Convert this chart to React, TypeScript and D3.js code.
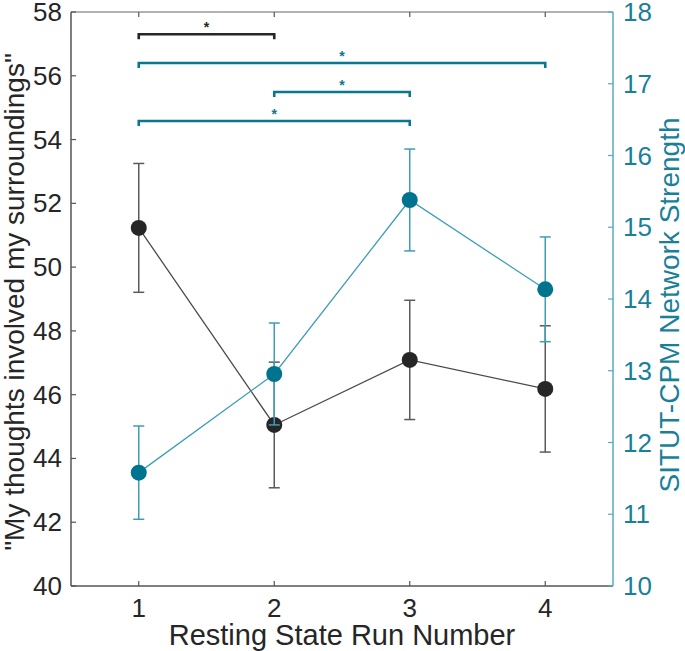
import React from "react";
import * as d3 from "d3";

const runs = [1, 2, 3, 4];
const behavMean = [51.23, 45.05, 47.09, 46.18];
const behavErr = [2.02, 1.97, 1.87, 1.98];
const netMean = [11.58, 12.955, 15.38, 14.135];
const netErr = [0.65, 0.71, 0.71, 0.73];
const leftTicks = [40, 42, 44, 46, 48, 50, 52, 54, 56, 58];
const rightTicks = [10, 11, 12, 13, 14, 15, 16, 17, 18];
const bracketFrom = [1, 1, 2, 1];
const bracketTo = [2, 4, 3, 3];
const bracketLevel = [57.3, 56.4, 55.49, 54.58];
const bracketSeries = ["behav", "net", "net", "net"];

const W = 685;
const H = 651;
const m = { left: 71, right: 613, top: 12, bottom: 586 };

const DARK = "#262626";
const DARKLINE = "#4a4a4a";
const BLUE = "#00738f";
const BLUELINE = "#3f9db7";
const AXISBLUE = "#1a7f99";
const FONT = "'Liberation Sans', Arial, sans-serif";

export default function App() {
  const x = d3.scaleLinear().domain([0.5, 4.5]).range([m.left, m.right]);
  const yL = d3.scaleLinear().domain([40, 58]).range([m.bottom, m.top]);
  const yR = d3.scaleLinear().domain([10, 18]).range([m.bottom, m.top]);
  const line = d3.line<[number, number]>().x((d) => d[0]).y((d) => d[1]);
  const cap = 5.5;
  const tk = 5;

  const behavPts: [number, number][] = runs.map((r, i) => [x(r), yL(behavMean[i])]);
  const netPts: [number, number][] = runs.map((r, i) => [x(r), yR(netMean[i])]);

  return (
    <svg width={W} height={H} style={{ position: "absolute", left: 0, top: 0, background: "#fff" }} fontFamily={FONT}>
      {/* box */}
      <line x1={m.left} x2={m.right} y1={m.top} y2={m.top} stroke="#666" strokeWidth={1.2} />
      <line x1={m.left} x2={m.right} y1={m.bottom} y2={m.bottom} stroke="#555" strokeWidth={1.5} />
      <line x1={m.left} x2={m.left} y1={m.top} y2={m.bottom} stroke="#555" strokeWidth={1.5} />
      <line x1={m.right} x2={m.right} y1={m.top} y2={m.bottom} stroke="#58aac2" strokeWidth={1.5} />

      {/* x ticks */}
      {runs.map((r) => (
        <g key={"xt" + r}>
          <line x1={x(r)} x2={x(r)} y1={m.bottom} y2={m.bottom - tk} stroke="#555" strokeWidth={1.2} />
          <line x1={x(r)} x2={x(r)} y1={m.top} y2={m.top + tk} stroke="#555" strokeWidth={1.2} />
          <text x={x(r)} y={m.bottom + 31} textAnchor="middle" fontSize={26} fill={DARK}>{r}</text>
        </g>
      ))}
      <text x={(m.left + m.right) / 2} y={m.bottom + 59} textAnchor="middle" fontSize={29} fill={DARK}>
        Resting State Run Number
      </text>

      {/* left ticks */}
      {leftTicks.map((t) => (
        <g key={"lt" + t}>
          <line x1={m.left} x2={m.left + tk} y1={yL(t)} y2={yL(t)} stroke="#555" strokeWidth={1.2} />
          <text x={m.left - 9} y={yL(t) + 9} textAnchor="end" fontSize={26} fill={DARK}>{t}</text>
        </g>
      ))}
      <text transform={`translate(24,${(m.top + m.bottom) / 2 + 3}) rotate(-90)`} textAnchor="middle" fontSize={28} fill={DARK}>
        "My thoughts involved my surroundings"
      </text>

      {/* right ticks */}
      {rightTicks.map((t) => (
        <g key={"rt" + t}>
          <line x1={m.right} x2={m.right - tk} y1={yR(t)} y2={yR(t)} stroke="#58aac2" strokeWidth={1.2} />
          <text x={m.right + 10} y={yR(t) + 9} textAnchor="start" fontSize={26} fill={AXISBLUE}>{t}</text>
        </g>
      ))}
      <text transform={`translate(679,${yR(14) + 6}) rotate(-90)`} textAnchor="middle" fontSize={28} fill={AXISBLUE}>
        SITUT-CPM Network Strength
      </text>

      {/* brackets */}
      {bracketFrom.map((f, i) => {
        const col = bracketSeries[i] === "behav" ? DARK : "#0a7690";
        const y = yL(bracketLevel[i]);
        const x1 = x(f);
        const x2 = x(bracketTo[i]);
        return (
          <g key={"br" + i}>
            <path d={`M${x1},${y + 5}V${y}H${x2}V${y + 5}`} fill="none" stroke={col} strokeWidth={2.6} />
            <text x={(x1 + x2) / 2} y={y - 2} textAnchor="middle" fontSize={14} fontWeight="bold" fill={col}>*</text>
          </g>
        );
      })}

      {/* behavioural series */}
      <path d={line(behavPts) || ""} fill="none" stroke={DARKLINE} strokeWidth={1.3} />
      {runs.map((r, i) => (
        <g key={"be" + r} stroke="#5a5a5a" strokeWidth={1.5}>
          <line x1={x(r)} x2={x(r)} y1={yL(behavMean[i] - behavErr[i])} y2={yL(behavMean[i] + behavErr[i])} />
          <line x1={x(r) - cap} x2={x(r) + cap} y1={yL(behavMean[i] - behavErr[i])} y2={yL(behavMean[i] - behavErr[i])} />
          <line x1={x(r) - cap} x2={x(r) + cap} y1={yL(behavMean[i] + behavErr[i])} y2={yL(behavMean[i] + behavErr[i])} />
        </g>
      ))}
      {behavPts.map((p, i) => (
        <circle key={"bc" + i} cx={p[0]} cy={p[1]} r={8} fill={DARK} />
      ))}

      {/* network series */}
      <path d={line(netPts) || ""} fill="none" stroke={BLUELINE} strokeWidth={1.3} />
      {runs.map((r, i) => (
        <g key={"ne" + r} stroke={BLUELINE} strokeWidth={1.5}>
          <line x1={x(r)} x2={x(r)} y1={yR(netMean[i] - netErr[i])} y2={yR(netMean[i] + netErr[i])} />
          <line x1={x(r) - cap} x2={x(r) + cap} y1={yR(netMean[i] - netErr[i])} y2={yR(netMean[i] - netErr[i])} />
          <line x1={x(r) - cap} x2={x(r) + cap} y1={yR(netMean[i] + netErr[i])} y2={yR(netMean[i] + netErr[i])} />
        </g>
      ))}
      {netPts.map((p, i) => (
        <circle key={"nc" + i} cx={p[0]} cy={p[1]} r={8} fill={BLUE} />
      ))}
    </svg>
  );
}
